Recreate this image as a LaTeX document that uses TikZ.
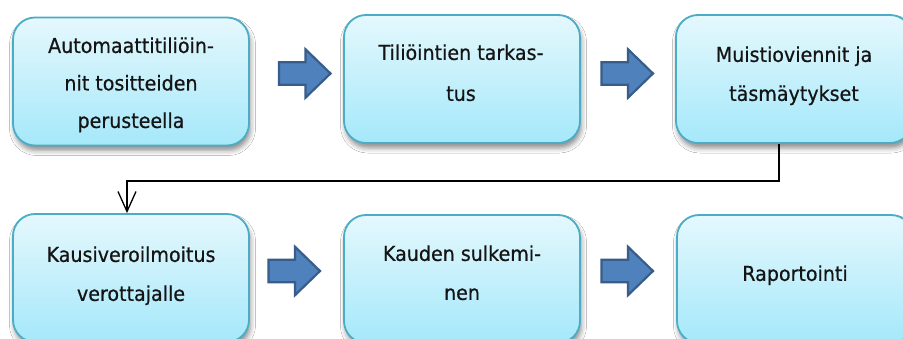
\documentclass[tikz,border=0pt]{standalone}
\usepackage{fontspec}
\setmainfont{DejaVu Sans}[FakeStretch=0.93,FakeBold=0.6]
\usetikzlibrary{arrows.meta,shadows.blur}

\definecolor{boxedge}{RGB}{75,172,198}
\definecolor{boxtop}{RGB}{229,248,253}
\definecolor{boxbot}{RGB}{165,232,250}
\definecolor{arrfill}{RGB}{79,129,189}
\definecolor{arredge}{RGB}{56,93,138}

\begin{document}
\begin{tikzpicture}[x=1pt,y=-1pt,
  stepbox/.style={draw=boxedge, line width=1.8pt, rounded corners=22pt,
    minimum width=236pt, minimum height=128pt, inner sep=0pt,
    top color=boxtop, bottom color=boxbot,
    blur shadow={shadow xshift=1.5pt, shadow yshift=-5pt,
      shadow blur radius=5pt, shadow opacity=45}},
  steptext/.style={anchor=north, align=center, inner sep=0pt, text=black!92},
  fs/.style={font=\fontsize{20.5pt}{#1}\selectfont},
  blockarrow/.pic={
    \draw[fill=arrfill, draw=arredge, line width=2.2pt, line join=miter]
      (-25.5,-11.2) -- (1,-11.2) -- (1,-24.2) -- (26,0)
      -- (1,24.2) -- (1,11.2) -- (-25.5,11.2) -- cycle;},
  conn/.style={draw=black, line width=1.3pt,
    -{Straight Barb[length=20pt,width=18pt,line width=1.3pt]}}]

  % canvas
  \useasboundingbox (0,0) rectangle (903,339);
  \fill[white] (0,0) rectangle (903,339);
  \clip (0,0) rectangle (903,339);

  % process steps, top row
  \node[stepbox] (b1) at (131,81.5) {};
  \node[stepbox] (b2) at (462,79) {};
  \node[stepbox] (b3) at (794,79) {};
  % process steps, bottom row
  \node[stepbox] (b4) at (131,278) {};
  \node[stepbox] (b5) at (462,279) {};
  \node[stepbox] (b6) at (795,279) {};

  % step labels
  \node[steptext, fs=37.5pt] (t1) at (131,26.5)
    {\strut Automaattitiliöin-\\nit tositteiden\\perusteella};
  \node[steptext, fs=41pt] (t2) at (461,31)
    {\strut Tiliöintien tarkas-\\tus};
  \node[steptext, fs=39pt] (t3) at (794,34.4)
    {\strut Muistioviennit ja\\täsmäytykset};
  \node[steptext, fs=39pt] (t4) at (131,234.4)
    {\strut Kausiveroilmoitus\\verottajalle};
  \node[steptext, fs=39pt] (t5) at (462,233.4)
    {\strut Kauden sulkemi-\\nen};
  \node[steptext, fs=39pt] (t6) at (795,253.4)
    {\strut Raportointi};

  % block arrows between steps
  \pic at (304.5,73.5) {blockarrow};
  \pic at (627,73.5) {blockarrow};
  \pic at (294,271) {blockarrow};
  \pic at (627,271) {blockarrow};

  % link from the end of the first row to the start of the second
  \coordinate (k1) at (779,181);
  \coordinate (k2) at (127,181);
  \draw[conn] ([xshift=-15pt]b3.south) -- (k1) -- (k2) -- ([xshift=-4pt]b4.north);
\end{tikzpicture}
\end{document}
